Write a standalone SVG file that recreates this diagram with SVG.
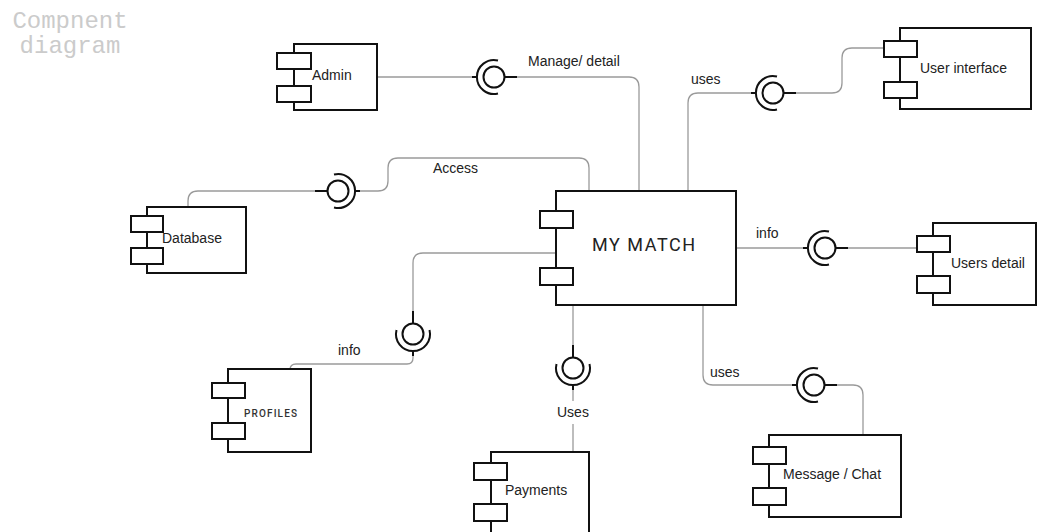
<svg xmlns="http://www.w3.org/2000/svg" width="1040" height="532" viewBox="0 0 1040 532">
<style>
.box{fill:#fff;stroke:#111;stroke-width:2}
.port{fill:#fff;stroke:#111;stroke-width:2}
.lbl{font-family:"Liberation Sans",Arial,sans-serif;font-size:14px;fill:#222}
.conn{fill:none;stroke:#9a9a9a;stroke-width:1.3}
.ifc{fill:none;stroke:#111;stroke-width:2}
.title{font-family:"Liberation Mono",monospace;font-size:24px;fill:#cbcbcb;text-anchor:middle}
</style>
<defs>
<g id="iface">
<circle class="ifc" cx="0" cy="0" r="10.5"/>
<path class="ifc" d="M4,-16.5 A17,17 0 1 0 4,16.5"/>
<line class="ifc" x1="10.5" y1="0" x2="23" y2="0"/>
<line class="ifc" x1="-22" y1="0" x2="-17" y2="0"/>
</g>
</defs>
<rect width="1040" height="532" fill="#fff"/>
<g id="title">
<text class="title" x="70" y="28">Compnent</text>
<text class="title" x="70" y="53">diagram</text>
</g>
<g id="connectors">
<path class="conn" d="M377,77 H472 M517,77 H629 Q639,77 639,87 V191"/>
<path class="conn" d="M884,48 H852 Q842,48 842,58 V83 Q842,93 832,93 H796 M751,93 H698 Q688,93 688,103 V191"/>
<path class="conn" d="M188,207 V201 Q188,191 198,191 H315 M360,191 H378 Q388,191 388,181 V168 Q388,158 398,158 H579 Q589,158 589,168 V191"/>
<path class="conn" d="M736,248 H803 M848,248 H917"/>
<path class="conn" d="M556,253 H423 Q413,253 413,263 V311 M413,356 V358 Q413,364 407,364 H296 Q290,364 290,370"/>
<path class="conn" d="M573,305 V345 M573,390 V401 M573,424 V452"/>
<path class="conn" d="M703,305 V375 Q703,385 713,385 H792 M837,385 H853 Q863,385 863,395 V435"/>
<use href="#iface" transform="translate(494,77)"/>
<use href="#iface" transform="translate(773,93)"/>
<use href="#iface" transform="translate(338,191) rotate(180)"/>
<use href="#iface" transform="translate(825,248)"/>
<use href="#iface" transform="translate(413,334) rotate(-90)"/>
<use href="#iface" transform="translate(573,368) rotate(-90)"/>
<use href="#iface" transform="translate(814,385)"/>
<text class="lbl" x="528" y="66">Manage/ detail</text>
<text class="lbl" x="691" y="84">uses</text>
<text class="lbl" x="433" y="173">Access</text>
<text class="lbl" x="756" y="238">info</text>
<text class="lbl" x="338" y="355">info</text>
<text class="lbl" x="557" y="417">Uses</text>
<text class="lbl" x="710" y="377">uses</text>
</g>
<g id="admin">
<rect class="box" x="294" y="44" width="83" height="66"/>
<rect class="port" x="277" y="53" width="34" height="16"/>
<rect class="port" x="277" y="86" width="34" height="16"/>
<text class="lbl" x="312" y="80">Admin</text>
</g>
<g id="user-interface">
<rect class="box" x="900" y="28" width="131" height="81"/>
<rect class="port" x="884" y="41" width="33" height="16"/>
<rect class="port" x="884" y="82" width="33" height="16"/>
<text class="lbl" x="920" y="73">User interface</text>
</g>
<g id="database">
<rect class="box" x="147" y="207" width="99" height="66"/>
<rect class="port" x="131" y="216" width="32" height="16"/>
<rect class="port" x="131" y="248" width="32" height="16"/>
<text class="lbl" x="162" y="243">Database</text>
</g>
<g id="my-match">
<rect class="box" x="556" y="191" width="180" height="114"/>
<rect class="port" x="540" y="211" width="33" height="17"/>
<rect class="port" x="540" y="268" width="33" height="17"/>
<text x="592" y="251" textLength="103" lengthAdjust="spacing" style="font-family:Roboto,'Liberation Sans',sans-serif;font-weight:400;font-size:18px;fill:#222">MY MATCH</text>
</g>
<g id="users-detail">
<rect class="box" x="933" y="223" width="103" height="82"/>
<rect class="port" x="917" y="236" width="33" height="16"/>
<rect class="port" x="917" y="276" width="33" height="17"/>
<text class="lbl" x="951" y="268">Users detail</text>
</g>
<g id="profiles">
<rect class="box" x="228" y="369" width="83" height="83"/>
<rect class="port" x="212" y="383" width="33" height="15"/>
<rect class="port" x="212" y="423" width="33" height="16"/>
<text x="244" y="417" textLength="53" lengthAdjust="spacing" style="font-family:Roboto,'Liberation Sans',sans-serif;font-weight:500;font-size:10px;fill:#333">PROFILES</text>
</g>
<g id="payments">
<rect class="box" x="491" y="452" width="98" height="90"/>
<rect class="port" x="474" y="463" width="33" height="17"/>
<rect class="port" x="474" y="504" width="33" height="17"/>
<text class="lbl" x="505" y="495">Payments</text>
</g>
<g id="message-chat">
<rect class="box" x="769" y="435" width="132" height="82"/>
<rect class="port" x="753" y="447" width="33" height="17"/>
<rect class="port" x="753" y="488" width="33" height="17"/>
<text class="lbl" x="783" y="479">Message / Chat</text>
</g>
</svg>
